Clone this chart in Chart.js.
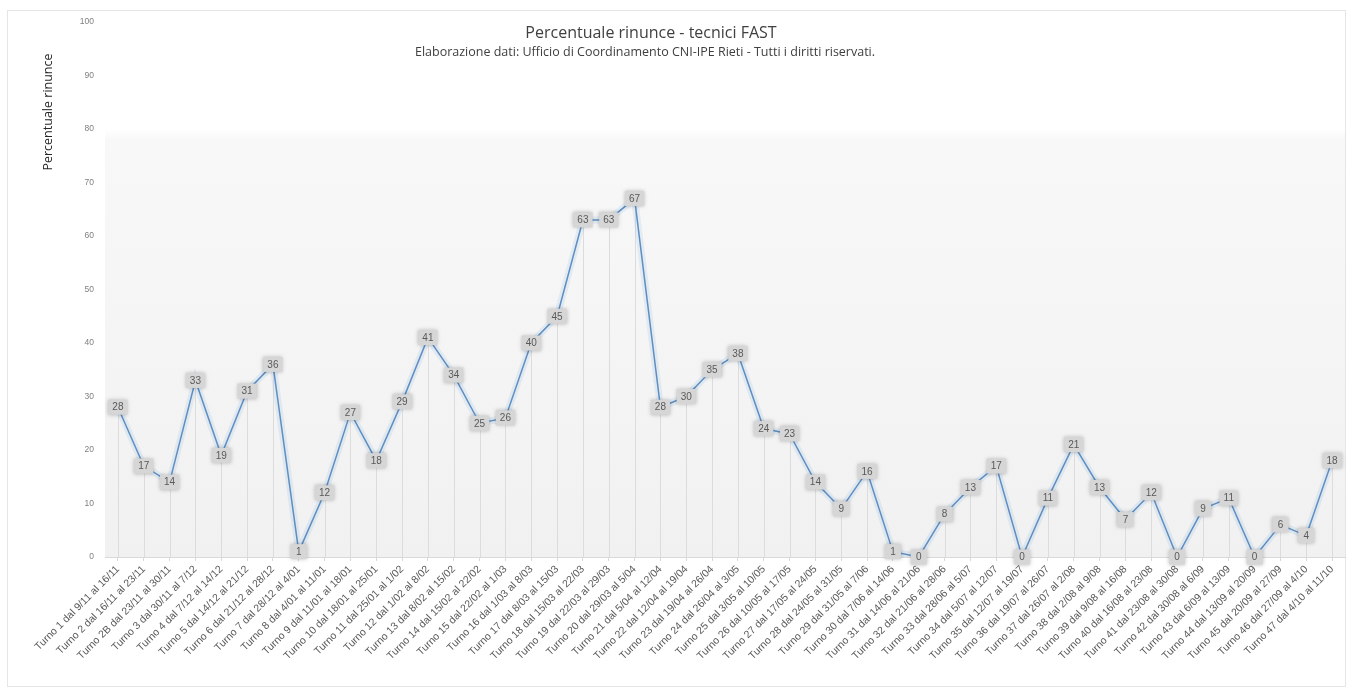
<!DOCTYPE html>
<html>
<head>
<meta charset="utf-8">
<script src="https://cdn.jsdelivr.net/npm/chart.js@4/dist/chart.umd.min.js"></script>
<style>
  html, body { margin: 0; padding: 0; background: #fff; }
  #wrap { width: 1348px; height: 689px; }
</style>
</head>
<body>
<div id="wrap"><canvas id="chart"></canvas></div>
<script>
const turni = [
  "Turno 1 dal 9/11 al 16/11", "Turno 2 dal 16/11 al 23/11", "Turno 2B dal 23/11 al 30/11",
  "Turno 3 dal 30/11 al 7/12", "Turno 4 dal 7/12 al 14/12", "Turno 5 dal 14/12 al 21/12",
  "Turno 6 dal 21/12 al 28/12", "Turno 7 dal 28/12 al 4/01", "Turno 8 dal 4/01 al 11/01",
  "Turno 9 dal 11/01 al 18/01", "Turno 10 dal 18/01 al 25/01", "Turno 11 dal 25/01 al 1/02",
  "Turno 12 dal 1/02 al 8/02", "Turno 13 dal 8/02 al 15/02", "Turno 14 dal 15/02 al 22/02",
  "Turno 15 dal 22/02 al 1/03", "Turno 16 dal 1/03 al 8/03", "Turno 17 dal 8/03 al 15/03",
  "Turno 18 dal 15/03 al 22/03", "Turno 19 dal 22/03 al 29/03", "Turno 20 dal 29/03 al 5/04",
  "Turno 21 dal 5/04 al 12/04", "Turno 22 dal 12/04 al 19/04", "Turno 23 dal 19/04 al 26/04",
  "Turno 24 dal 26/04 al 3/05", "Turno 25 dal 3/05 al 10/05", "Turno 26 dal 10/05 al 17/05",
  "Turno 27 dal 17/05 al 24/05", "Turno 28 dal 24/05 al 31/05", "Turno 29 dal 31/05 al 7/06",
  "Turno 30 dal 7/06 al 14/06", "Turno 31 dal 14/06 al 21/06", "Turno 32 dal 21/06 al 28/06",
  "Turno 33 dal 28/06 al 5/07", "Turno 34 dal 5/07 al 12/07", "Turno 35 dal 12/07 al 19/07",
  "Turno 36 dal 19/07 al 26/07", "Turno 37 dal 26/07 al 2/08", "Turno 38 dal 2/08 al 9/08",
  "Turno 39 dal 9/08 al 16/08", "Turno 40 dal 16/08 al 23/08", "Turno 41 dal 23/08 al 30/08",
  "Turno 42 dal 30/08 al 6/09", "Turno 43 dal 6/09 al 13/09", "Turno 44 dal 13/09 al 20/09",
  "Turno 45 dal 20/09 al 27/09", "Turno 46 dal 27/09 al 4/10", "Turno 47 dal 4/10 al 11/10"
];

const percRinunce = [
  28, 17, 14, 33, 19, 31, 36, 1, 12, 27, 18, 29,
  41, 34, 25, 26, 40, 45, 63, 63, 67, 28, 30, 35,
  38, 24, 23, 14, 9, 16, 1, 0, 8, 13, 17, 0,
  11, 21, 13, 7, 12, 0, 9, 11, 0, 6, 4, 18
];

const yTicks = [0, 10, 20, 30, 40, 50, 60, 70, 80, 90, 100];

const titolo = "Percentuale rinunce - tecnici FAST";
const sottotitolo = "Elaborazione dati: Ufficio di Coordinamento CNI-IPE Rieti - Tutti i diritti riservati.";
const titoloY = "Percentuale rinunce";

// sfondo area grafico + cornice
const sfondo = {
  id: 'sfondo',
  beforeDraw(chart) {
    const { ctx, chartArea: a } = chart;
    ctx.save();
    ctx.strokeStyle = '#e6e6e6';
    ctx.lineWidth = 1;
    ctx.strokeRect(7.5, 10.5, 1338, 676);
    const g = ctx.createLinearGradient(0, a.top, 0, a.bottom);
    g.addColorStop(0, '#ffffff');
    g.addColorStop(0.2, '#ffffff');
    g.addColorStop(0.22, '#f8f8f8');
    g.addColorStop(1, '#f1f1f1');
    ctx.fillStyle = g;
    ctx.fillRect(a.left, a.top, a.right - a.left, a.bottom - a.top);
    ctx.restore();
  }
};

// linee verticali dal punto all'asse
const dropLines = {
  id: 'dropLines',
  beforeDatasetsDraw(chart) {
    const { ctx, scales } = chart;
    const meta = chart.getDatasetMeta(1);
    const y0 = scales.y.getPixelForValue(0);
    ctx.save();
    ctx.strokeStyle = '#dcdcdc';
    ctx.lineWidth = 1;
    meta.data.forEach(p => {
      const x = Math.round(p.x) + 0.5;
      ctx.beginPath();
      ctx.moveTo(x, p.y);
      ctx.lineTo(x, y0);
      ctx.stroke();
    });
    ctx.restore();
  }
};

// etichette dati in riquadro grigio
const etichette = {
  id: 'etichette',
  afterDatasetsDraw(chart) {
    const { ctx } = chart;
    const meta = chart.getDatasetMeta(1);
    ctx.save();
    ctx.font = '10px "Liberation Sans", Arial, sans-serif';
    ctx.textAlign = 'center';
    ctx.textBaseline = 'middle';
    meta.data.forEach((p, i) => {
      const txt = String(percRinunce[i]);
      const w = Math.max(ctx.measureText(txt).width + 8, 16);
      const h = 15;
      ctx.shadowColor = 'rgba(0,0,0,0.25)';
      ctx.shadowBlur = 4;
      ctx.fillStyle = '#d6d6d6';
      ctx.fillRect(p.x - w / 2, p.y - h / 2, w, h);
      ctx.shadowBlur = 0;
      ctx.fillStyle = '#595959';
      ctx.fillText(txt, p.x, p.y + 0.5);
    });
    ctx.restore();
  }
};

// titoli sovrapposti all'area del grafico
const titoli = {
  id: 'titoli',
  afterDraw(chart) {
    const { ctx } = chart;
    ctx.save();
    ctx.textAlign = 'center';
    ctx.textBaseline = 'middle';
    ctx.fillStyle = '#404040';
    ctx.font = '16px "Open Sans", "Liberation Sans", sans-serif';
    ctx.fillText(titolo, 651, 33);
    ctx.font = '12.5px "Open Sans", "Liberation Sans", sans-serif';
    ctx.fillText(sottotitolo, 645, 52);
    // titolo asse y
    ctx.translate(48, 112);
    ctx.rotate(-Math.PI / 2);
    ctx.fillStyle = '#262626';
    ctx.font = '12.5px "Open Sans", "Liberation Sans", sans-serif';
    ctx.fillText(titoloY, 0, 0);
    ctx.restore();
  }
};

new Chart(document.getElementById('chart').getContext('2d'), {
  type: 'line',
  data: {
    labels: turni,
    datasets: [
      {
        // alone azzurro della linea
        data: percRinunce,
        borderColor: 'rgba(91,155,213,0.13)',
        borderWidth: 7,
        pointRadius: 0,
        fill: false,
        tension: 0
      },
      {
        label: 'Percentuale rinunce',
        data: percRinunce,
        borderColor: '#5f8dc0',
        borderWidth: 1.5,
        pointRadius: 0,
        fill: false,
        tension: 0
      }
    ]
  },
  plugins: [sfondo, dropLines, etichette, titoli],
  options: {
    responsive: true,
    maintainAspectRatio: false,
    animation: false,
    layout: { padding: { top: 22, right: 3, left: 0, bottom: 0 } },
    plugins: {
      legend: { display: false },
      tooltip: { enabled: false },
      title: { display: false }
    },
    scales: {
      x: {
        offset: true,
        grid: {
          display: true,
          drawOnChartArea: false,
          tickLength: 4,
          color: '#d9d9d9'
        },
        border: { color: '#d9d9d9' },
        ticks: {
          autoSkip: false,
          minRotation: 45,
          maxRotation: 45,
          color: '#595959',
          font: { size: 10.5, family: '"Liberation Sans", Arial, sans-serif' },
          padding: 2
        },
        afterFit(scale) { scale.height = 132; }
      },
      y: {
        min: 0,
        max: 100,
        afterBuildTicks(scale) { scale.ticks = yTicks.map(v => ({ value: v })); },
        grid: { display: false },
        border: { display: false },
        ticks: {
          color: '#808080',
          font: { size: 8.5, family: '"Liberation Sans", Arial, sans-serif' },
          padding: 3
        },
        afterFit(scale) { scale.width = 105; }
      }
    }
  }
});
</script>
</body>
</html>
